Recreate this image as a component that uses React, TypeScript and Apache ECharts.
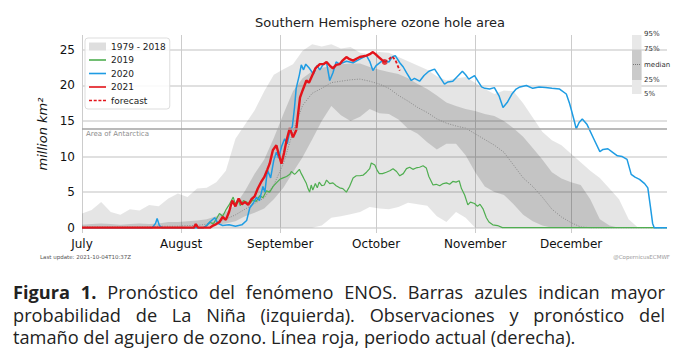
import React, { useEffect, useRef } from "react";
import * as echarts from "echarts";

// ---- Axis definitions ----
const MONTH_LABELS = ["July", "August", "September", "October", "November", "December"];
const MONTH_START_DAYS = [0, 31, 62, 92, 123, 153]; // days since 1 July
const X_MAX_DAY = 183;
const Y_TICKS = [0, 5, 10, 15, 20, 25];
const ANTARCTICA_AREA = 13.9;

// ---- Climatology 1979-2018 percentiles (every 3 days from 1 July) ----
const BAND_DAYS = [
  0, 3, 6, 9, 12, 15, 18, 21, 24, 27, 30, 33, 36, 39, 42, 45, 48, 51, 54, 57, 60, 63, 66, 69, 72, 75, 78, 81,
  84, 87, 90, 93, 96, 99, 102, 105, 108, 111, 114, 117, 120, 123, 126, 129, 132, 135, 138, 141, 144, 147, 150,
  153, 156, 159, 162, 165, 168, 171, 174, 177, 180, 183,
];
const P95 = [
  2.0, 2.5, 3.6, 2.2, 1.8, 2.6, 2.4, 3.2, 3.0, 4.1, 4.8, 4.3, 5.5, 5.6, 6.4, 8.0, 12.5, 14.5, 16.5, 19.2, 21.5,
  22.3, 23.0, 24.9, 25.8, 25.5, 25.8, 25.2, 25.4, 24.6, 24.4, 24.7, 24.6, 24.0, 23.4, 22.8, 22.2, 21.3, 20.7,
  21.0, 21.2, 20.4, 19.5, 18.8, 19.3, 19.2, 17.5, 15.5, 13.5, 12.3, 11.6, 10.4, 9.2, 8.0, 7.0, 5.5, 4.0, 1.2, 0,
  0, 0, 0,
];
const P75 = [
  0.4, 0.5, 0.6, 0.5, 0.4, 0.5, 0.6, 0.5, 0.6, 0.8, 0.8, 0.9, 1.0, 1.2, 1.6, 2.2, 3.2, 5.2, 7.6, 9.6, 12.6,
  16.0, 19.2, 21.0, 22.0, 22.5, 22.7, 23.0, 23.1, 23.1, 22.6, 22.2, 21.9, 21.6, 21.0, 20.2, 19.5, 18.6, 17.6,
  17.1, 16.7, 16.4, 16.0, 15.7, 15.0, 14.0, 12.8, 11.2, 9.6, 7.8, 6.9, 6.4, 6.0, 4.0, 1.2, 0.3, 0, 0, 0, 0, 0, 0,
];
const P50 = [
  0.1, 0.1, 0.1, 0.1, 0.1, 0.1, 0.1, 0.1, 0.2, 0.2, 0.2, 0.3, 0.3, 0.5, 0.8, 1.2, 1.8, 2.6, 3.4, 4.2, 6.0, 9.0,
  13.5, 17.2, 18.9, 19.6, 20.4, 20.6, 20.8, 20.9, 20.6, 20.2, 19.6, 18.6, 17.8, 16.9, 16.2, 15.3, 14.7, 14.3,
  14.0, 13.2, 12.4, 11.6, 10.6, 8.8, 7.0, 5.8, 4.3, 2.6, 1.5, 0.7, 0.1, 0, 0, 0, 0, 0, 0, 0, 0, 0,
];
const P25 = [
  0, 0, 0, 0, 0, 0, 0, 0, 0, 0, 0, 0, 0, 0.2, 0.4, 0.6, 0.9, 1.6, 2.1, 2.7, 4.0, 5.6, 7.8, 9.9, 12.4, 15.0, 17.1,
  15.8, 15.0, 15.6, 16.7, 16.1, 16.0, 15.2, 13.9, 13.2, 12.0, 11.0, 11.8, 11.8, 10.2, 7.8, 5.8, 5.0, 4.6, 3.3,
  1.8, 0.9, 0.3, 0, 0, 0, 0, 0, 0, 0, 0, 0, 0, 0, 0, 0,
];
const P05 = [
  0, 0, 0, 0, 0, 0, 0, 0, 0, 0, 0, 0, 0, 0, 0, 0, 0, 0, 0, 0, 0, 0, 0, 0, 0, 0.3, 1.4, 1.6, 1.9, 2.2, 2.9, 2.7,
  2.6, 2.9, 3.5, 3.3, 3.1, 1.6, 0.8, 2.2, 1.4, 0, 0, 0, 0, 0, 0, 0, 0, 0, 0, 0, 0, 0, 0, 0, 0, 0, 0, 0, 0, 0,
];

// ---- Yearly observations: [day since 1 July, million km²] ----
const Y2019 = [
  [0, 0], [38, 0], [39, 0.3], [40, 0.8], [41, 0.5], [42, 1.2], [43, 2.0], [44, 1.6], [45, 2.5], [46, 3.2],
  [47.3, 4.3], [48, 3.3], [48.8, 4.0], [49.5, 3.1], [50.5, 3.8], [51.5, 3.6], [52.5, 3.4], [53.5, 3.9],
  [54.5, 3.7], [55.6, 4.5], [56.6, 4.2], [57.7, 5.2], [58.7, 5.0], [59.8, 5.8], [60.8, 6.3], [61.9, 6.8],
  [62.9, 7.0], [64, 7.2], [65, 7.5], [65.5, 7.9], [66.5, 7.5], [67, 7.7], [68, 8.2], [68.6, 7.6], [69.3, 7.0],
  [70.2, 6.2], [70.7, 5.5], [71.2, 5.0], [71.7, 6.0], [72.2, 5.3], [73, 6.2], [73.6, 5.6], [74.2, 6.4],
  [75, 5.9], [75.8, 6.0], [76.5, 6.7], [77.5, 6.2], [78.5, 6.3], [79.5, 5.9], [80.6, 5.6], [81.6, 5.5],
  [82.7, 5.0], [83.7, 5.8], [84.8, 7.0], [85.8, 7.3], [86.9, 7.3], [88, 7.4], [89, 7.8], [90, 8.3], [90.5, 9.1],
  [91.6, 8.8], [92.3, 8.1], [93, 7.6], [94, 7.6], [95.2, 7.8], [96.3, 8.0], [97.3, 8.3], [98.4, 7.9],
  [99.4, 7.3], [100.5, 7.6], [101.5, 8.3], [102.5, 8.5], [103.5, 8.2], [104.5, 8.4], [105.6, 8.5],
  [106.7, 8.7], [107.7, 8.4], [108.5, 7.2], [109.8, 6.0], [110.8, 6.1], [111.9, 5.9], [113, 6.2], [114, 6.3],
  [115, 6.1], [116, 6.5], [117, 6.4], [118, 6.6], [118.7, 5.5], [119.7, 4.6], [120.7, 3.2], [121.5, 3.6],
  [122.8, 3.4], [123.7, 3.0], [124.5, 3.3], [125.5, 2.6], [126.5, 1.4], [127.3, 0.8], [128.5, 0.4],
  [130, 0.3], [131.5, 0], [183, 0],
];
const Y2020 = [
  [0, 0], [22, 0], [23, 0.6], [23.5, 1.3], [24.2, 0.3], [25, 0], [38, 0], [39, 0.3], [40, 0.8], [41.5, 1.4],
  [42.5, 0.6], [44, 0.3], [46, 0.4], [48, 0.2], [50, 0.4], [51.5, 1.0], [52.5, 2.8], [53.5, 3.4], [54.6, 4.3],
  [55.5, 3.8], [56.6, 5.8], [57.2, 5.0], [58, 8.1], [59, 7.0], [60, 9.5], [60.8, 10.6], [61.5, 9.8],
  [62.5, 11.5], [63.4, 12.5], [64.2, 11.8], [65, 13.5], [65.8, 14.2], [66.5, 17.0], [67, 19.6], [68, 21.5],
  [68.6, 22.9], [69.3, 22.2], [70, 23.0], [71, 22.5], [72.4, 21.6], [73.5, 22.8], [74.4, 22.2], [75.5, 23.0],
  [76.5, 23.2], [77.5, 20.7], [78.5, 21.8], [79.5, 23.3], [80.6, 23.0], [82.7, 23.4], [84.8, 23.2],
  [86.9, 23.7], [89, 24.2], [90, 23.4], [91, 22.1], [92, 22.8], [94, 23.5], [96, 23.3], [97, 24.0], [98, 24.2],
  [99.4, 23.2], [100.5, 22.6], [101.5, 21.8], [103, 20.7], [104, 21.0], [105.6, 20.6], [107, 21.4],
  [108.5, 22.0], [110.3, 22.3], [111.5, 21.5], [113.4, 20.2], [114.5, 20.5], [116, 20.6], [117.5, 21.3],
  [119, 22.0], [120, 21.5], [121, 20.9], [122.8, 21.4], [124, 20.5], [125, 19.8], [126, 19.6], [127.5, 19.5],
  [129, 19.7], [130.5, 18.5], [131.7, 16.9], [133, 17.6], [134.5, 18.8], [135.8, 19.5], [137, 19.8],
  [139, 20.0], [141, 19.6], [143, 19.8], [145, 19.7], [147, 19.6], [149.4, 19.5], [151.5, 18.8],
  [152.5, 17.5], [153, 16.7], [154, 15.0], [154.6, 13.9], [155.5, 14.8], [156.5, 15.3], [158, 14.5],
  [160.3, 12.3], [162, 10.7], [163, 11.0], [164.5, 11.1], [166, 10.6], [167.5, 10.1], [169, 10.0],
  [170.5, 9.6], [171.8, 7.5], [173, 7.1], [174.4, 6.8], [176, 6.2], [177, 5.6], [177.8, 3.0], [178.5, 0.6],
  [179, 0], [183, 0],
];
const Y2021 = [
  [0, 0], [35, 0], [35.6, 0.5], [36.3, 0], [40, 0], [41, 0.3], [42, 0.5], [43, 0.8], [44, 1.5], [45, 1.1],
  [46, 2.2], [47, 3.8], [48, 3.0], [49, 4.1], [50, 3.3], [51, 3.6], [52, 3.2], [53, 4.0], [54, 4.4], [55, 5.5],
  [56, 6.4], [57, 7.1], [58, 8.2], [58.7, 9.0], [59.7, 10.9], [60.8, 11.6], [61.5, 10.4], [62.4, 9.0],
  [63.2, 10.5], [64, 12.3], [65, 14.0], [66, 12.7], [67, 13.7], [67.6, 16.0], [68.2, 18.3], [69, 19.3],
  [70.2, 20.7], [71, 20.4], [72.3, 21.7], [73, 22.4], [74.4, 23.0], [75.5, 23.0], [76.5, 23.3], [77.5, 22.8],
  [78.5, 22.4], [79.5, 22.9], [80.6, 23.0], [81.5, 23.5], [82.7, 24.0], [83.7, 23.7], [84.8, 23.5],
  [86, 23.8], [86.9, 24.0], [89, 24.2], [90, 24.4], [91, 24.7], [91.8, 24.4], [92.8, 24.0], [93.8, 23.6],
  [94.7, 23.3],
];
const FORECAST = [[94.7, 23.3], [95.8, 23.6], [97, 24.1], [98, 23.6], [99.4, 22.1]];

const TITLE = "Southern Hemisphere ozone hole area";
const LAST_UPDATE = "Last update: 2021-10-04T10:37Z";
const CREDIT = "@CopernicusECMWF";
const PCT_LABELS = ["95%", "75%", "median", "25%", "5%"];
const CLIM_NAME = "1979 - 2018";

const FONT = "DejaVu Sans";
const RED = "#e3141b";
const BLUE = "#1e9ce3";
const GREEN = "#4fae50";
const CLIM_ICON_COLOR = "#dedede";
const LINE_ICON = "path://M0,0H17V1.6H0Z";
const DASH_ICON = "path://M0,0H3V1.6H0Z M4.7,0H7.7V1.6H4.7Z M9.4,0H12.4V1.6H9.4Z M14,0H17V1.6H14Z";
const PATCH_ICON = "path://M0,0H17V8H0Z";

function bandSeries(name: string, lo: number[], hi: number[], fill: string) {
  return {
    type: "custom",
    name,
    silent: true,
    data: BAND_DAYS.map((d, i) => [d, lo[i], hi[i]]),
    encode: { x: 0, y: [1, 2] },
    renderItem: (params: any, api: any) => {
      if (params.dataIndex !== 0) return null;
      const upper = BAND_DAYS.map((d, i) => api.coord([d, hi[i]]));
      const lower = BAND_DAYS.map((d, i) => api.coord([d, lo[i]])).reverse();
      return { type: "polygon", shape: { points: upper.concat(lower) }, style: { fill } };
    },
  };
}

export default function App() {
  const ref = useRef<HTMLDivElement>(null);

  useEffect(() => {
    document.body.style.margin = "0";
    if (!ref.current) return;
    const chart = echarts.init(ref.current, undefined, { renderer: "svg" });

    const lastRed = Y2021[Y2021.length - 1];

    const option: any = {
      animation: false,
      textStyle: { fontFamily: FONT },
      title: {
        text: TITLE,
        left: 375,
        textAlign: "center",
        top: 11,
        textStyle: { fontFamily: FONT, fontSize: 13, fontWeight: "normal", color: "#222" },
      },
      grid: { left: 82, right: 17, top: 35, bottom: 35 },
      legend: {
        left: 85,
        top: 38,
        orient: "vertical",
        itemWidth: 17,
        itemHeight: 8,
        itemGap: 2.5,
        padding: [3, 4, 3, 4],
        backgroundColor: "rgba(255,255,255,0.85)",
        borderColor: "#dddddd",
        borderWidth: 1,
        borderRadius: 3,
        selectedMode: false,
        textStyle: { fontFamily: FONT, fontSize: 9, color: "#222", lineHeight: 11 },
        data: [
          { name: CLIM_NAME, icon: PATCH_ICON, itemStyle: { color: CLIM_ICON_COLOR } },
          { name: "2019", icon: LINE_ICON, itemStyle: { color: GREEN } },
          { name: "2020", icon: LINE_ICON, itemStyle: { color: BLUE } },
          { name: "2021", icon: LINE_ICON, itemStyle: { color: RED } },
          { name: "forecast", icon: DASH_ICON, itemStyle: { color: RED } },
        ],
      },
      xAxis: {
        type: "value",
        min: 0,
        max: X_MAX_DAY,
        axisLine: { show: false },
        axisTick: { show: false, customValues: MONTH_START_DAYS },
        axisLabel: {
          customValues: MONTH_START_DAYS,
          formatter: (v: number) => MONTH_LABELS[MONTH_START_DAYS.indexOf(v)] ?? "",
          fontFamily: FONT,
          fontSize: 12,
          color: "#111",
          margin: 5,
        },
        splitLine: { show: true, lineStyle: { color: "#cccccc", width: 1 } },
      },
      yAxis: {
        type: "value",
        min: -0.75,
        max: 27.1,
        name: "million km²",
        nameLocation: "middle",
        nameGap: 23,
        nameTextStyle: { fontFamily: FONT, fontStyle: "italic", fontSize: 13, color: "#111" },
        axisLine: { show: false },
        axisTick: { show: false, customValues: Y_TICKS },
        axisLabel: { customValues: Y_TICKS, fontFamily: FONT, fontSize: 12, color: "#111", margin: 7 },
        splitLine: { show: true, lineStyle: { color: "#d6d6d6", width: 1.5 } },
      },
      series: [
        bandSeries("5% - 95%", P05, P95, "rgba(0,0,0,0.1)"),
        bandSeries("25% - 75%", P25, P75, "rgba(0,0,0,0.14)"),
        {
          // legend entry for the climatology bands
          type: "line",
          name: CLIM_NAME,
          data: [],
          symbol: "none",
          color: CLIM_ICON_COLOR,
          itemStyle: { color: CLIM_ICON_COLOR },
          lineStyle: { color: CLIM_ICON_COLOR },
        },
        {
          type: "line",
          name: "median",
          data: BAND_DAYS.map((d, i) => [d, P50[i]]),
          symbol: "none",
          silent: true,
          lineStyle: { color: "#8a8a8a", width: 1, type: [1, 1.5] },
          markLine: {
            silent: true,
            symbol: "none",
            data: [{ yAxis: ANTARCTICA_AREA }],
            lineStyle: { color: "#a3a3a3", width: 1.5, type: "solid" },
            label: {
              show: true,
              position: "insideStartBottom",
              formatter: "Area of Antarctica",
              fontFamily: FONT,
              fontSize: 7,
              color: "#8c8c8c",
              distance: [4, 2],
            },
          },
        },
        {
          type: "line",
          name: "2019",
          data: Y2019,
          symbol: "none",
          color: GREEN,
          lineStyle: { color: GREEN, width: 1.2 },
        },
        {
          type: "line",
          name: "2020",
          data: Y2020,
          symbol: "none",
          color: BLUE,
          lineStyle: { color: BLUE, width: 1.5 },
        },
        {
          type: "line",
          name: "forecast",
          data: FORECAST,
          symbol: "none",
          color: RED,
          lineStyle: { color: RED, width: 1.8, type: [3, 2] },
        },
        {
          type: "line",
          name: "2021",
          data: Y2021,
          symbol: "none",
          color: RED,
          lineStyle: { color: RED, width: 2.4 },
        },
        {
          type: "scatter",
          name: "last",
          data: [lastRed],
          symbolSize: 6,
          itemStyle: { color: RED },
          silent: true,
        },
      ],
      graphic: [
        { type: "rect", z: 100, shape: { x: 632, y: 35, width: 9.5, height: 59 }, style: { fill: "#e8e8e8" } },
        { type: "rect", z: 101, shape: { x: 632, y: 49.5, width: 9.5, height: 30.5 }, style: { fill: "#cacaca" } },
        {
          type: "line",
          z: 102,
          shape: { x1: 633, y1: 64.5, x2: 641, y2: 64.5 },
          style: { stroke: "#777", lineWidth: 1, lineDash: [1, 1] },
        },
        ...PCT_LABELS.map((t, i) => ({
          type: "text",
          z: 103,
          x: 644,
          y: [34, 48.5, 64.5, 80, 94][i],
          style: { text: t, font: `7px "${FONT}"`, fill: "#333", verticalAlign: "middle" },
        })),
        {
          type: "text",
          x: 40,
          y: 257,
          style: { text: LAST_UPDATE, font: `5.5px "${FONT}"`, fill: "#555", verticalAlign: "middle" },
        },
        {
          type: "text",
          x: 670,
          y: 257,
          style: { text: CREDIT, font: `5.5px "${FONT}"`, fill: "#999", align: "right", verticalAlign: "middle" },
        },
      ],
    };

    chart.setOption(option);
    return () => chart.dispose();
  }, []);

  const lineStyle: React.CSSProperties = {
    textAlign: "justify",
    textAlignLast: "justify",
    whiteSpace: "nowrap",
  };

  return (
    <div style={{ position: "relative", width: 684, height: 361, background: "#fff", overflow: "hidden" }}>
      <div ref={ref} style={{ position: "absolute", left: 0, top: 0, width: 684, height: 268 }} />
      <div
        style={{
          position: "absolute",
          left: 13,
          top: 281,
          width: 652,
          fontFamily: '"Open Sans", sans-serif',
          fontSize: 18.2,
          lineHeight: "22.5px",
          color: "#222",
        }}
      >
        <div style={lineStyle}>
          <b>Figura 1.</b> Pronóstico del fenómeno ENOS. Barras azules indican mayor
        </div>
        <div style={lineStyle}>probabilidad de La Niña (izquierda). Observaciones y pronóstico del</div>
        <div style={{ textAlign: "left", whiteSpace: "nowrap" }}>
          tamaño del agujero de ozono. Línea roja, periodo actual (derecha).
        </div>
      </div>
    </div>
  );
}
